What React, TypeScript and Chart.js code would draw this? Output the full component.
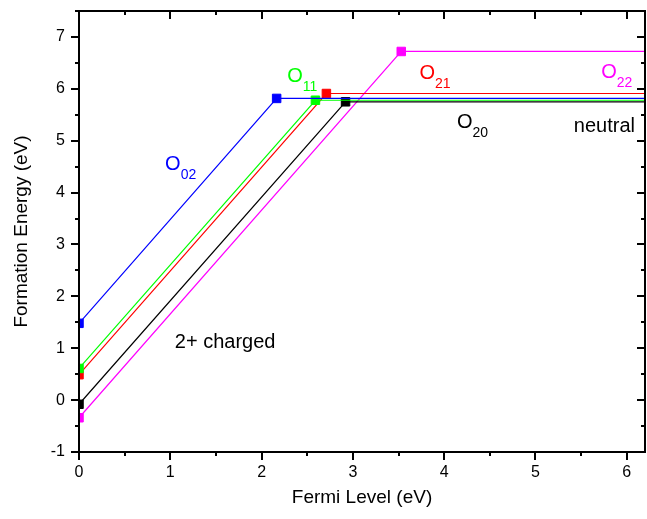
import React, { useEffect, useRef } from "react";
import { Chart, registerables } from "chart.js";

Chart.register(...registerables);

// Defect series (formation energy vs Fermi level)
const SERIES_NAMES = ["O02", "O11", "O21", "O20", "O22"];
const START_ENERGY = [1.48, 0.61, 0.49, -0.08, -0.34]; // at Ef = 0 (2+ charged)
const KINK_FERMI = [2.165, 2.59, 2.71, 2.92, 3.53]; // transition level
const NEUTRAL_ENERGY = [5.815, 5.78, 5.91, 5.75, 6.72]; // neutral plateau
const FERMI_END = 6.2;
const SERIES_COLORS = ["#0000ff", "#00ff00", "#ff0000", "#000000", "#ff00ff"];

const X_TICKS = [0, 1, 2, 3, 4, 5, 6];
const Y_TICKS = [-1, 0, 1, 2, 3, 4, 5, 6, 7];

// Text annotations (anchored in data coordinates)
const ANNOT_MAIN = ["O", "O", "O", "O", "O", "neutral", "2+ charged"];
const ANNOT_SUB = ["02", "11", "21", "22", "20", "", ""];
const ANNOT_X = [0.943, 2.28, 3.73, 5.72, 4.14, 5.42, 1.05];
const ANNOT_Y = [4.44, 6.14, 6.18, 6.21, 5.25, 5.16, 1.0];
const ANNOT_COLOR = ["#0000ff", "#00ff00", "#ff0000", "#ff00ff", "#000000", "#000000", "#000000"];

const FONT = "'Liberation Sans', Arial, sans-serif";

const framePlugin = {
  id: "frameAndText",
  afterDatasetsDraw(chart: any) {
    const { ctx, chartArea: a, scales } = chart;
    const x = scales.x;
    const y = scales.y;
    ctx.save();
    // annotations
    ctx.textBaseline = "alphabetic";
    ctx.textAlign = "left";
    for (let i = 0; i < ANNOT_MAIN.length; i++) {
      const px = x.getPixelForValue(ANNOT_X[i]);
      const py = y.getPixelForValue(ANNOT_Y[i]);
      ctx.fillStyle = ANNOT_COLOR[i];
      ctx.font = `20px ${FONT}`;
      ctx.fillText(ANNOT_MAIN[i], px, py);
      if (ANNOT_SUB[i]) {
        const w = ctx.measureText(ANNOT_MAIN[i]).width;
        ctx.font = `14px ${FONT}`;
        ctx.fillText(ANNOT_SUB[i], px + w, py + 9);
      }
    }
    // frame
    ctx.strokeStyle = "#000";
    ctx.lineWidth = 2;
    ctx.strokeRect(a.left, a.top, a.right - a.left, a.bottom - a.top);
    // ticks
    const major = 8;
    const minor = 4;
    ctx.beginPath();
    const xVals: number[] = [];
    X_TICKS.forEach((v) => { xVals.push(v); xVals.push(v + 0.5); });
    xVals.forEach((v, idx) => {
      if (v < x.min || v > x.max) return;
      const len = idx % 2 === 0 ? major : minor;
      const p = Math.round(x.getPixelForValue(v));
      ctx.moveTo(p, a.bottom);
      ctx.lineTo(p, a.bottom + len);
      ctx.moveTo(p, a.top);
      ctx.lineTo(p, a.top + len);
    });
    const yVals: number[] = [];
    Y_TICKS.forEach((v) => { yVals.push(v); yVals.push(v + 0.5); });
    yVals.forEach((v, idx) => {
      if (v < y.min || v > y.max) return;
      const len = idx % 2 === 0 ? major : minor;
      const p = Math.round(y.getPixelForValue(v));
      ctx.moveTo(a.left, p);
      ctx.lineTo(a.left - len, p);
      ctx.moveTo(a.right, p);
      ctx.lineTo(a.right - len, p);
    });
    ctx.stroke();
    ctx.restore();
  },
};

export default function App() {
  const ref = useRef<HTMLCanvasElement | null>(null);
  useEffect(() => {
    document.body.style.margin = "0";
    const canvas = ref.current;
    if (!canvas) return;
    const datasets = SERIES_NAMES.map((name, i) => ({
      label: name,
      data: [
        { x: 0, y: START_ENERGY[i] },
        { x: KINK_FERMI[i], y: NEUTRAL_ENERGY[i] },
        { x: FERMI_END, y: NEUTRAL_ENERGY[i] },
      ],
      borderColor: SERIES_COLORS[i],
      backgroundColor: SERIES_COLORS[i],
      borderWidth: 1.2,
      pointStyle: "rect",
      pointRadius: [6, 6, 0],
      pointBorderWidth: 1,
      pointHoverRadius: [6, 6, 0],
      clip: 0,
      tension: 0,
    }));
    const chart = new Chart(canvas, {
      type: "line",
      data: { datasets },
      plugins: [framePlugin],
      options: {
        animation: false,
        responsive: false,
        devicePixelRatio: 1,
        layout: { autoPadding: false, padding: { top: 11, right: 2, left: 0, bottom: 0 } },
        plugins: { legend: { display: false }, tooltip: { enabled: false } },
        scales: {
          x: {
            type: "linear",
            min: 0,
            max: FERMI_END,
            afterBuildTicks: (s: any) => { s.ticks = X_TICKS.map((v) => ({ value: v })); },
            afterFit: (s: any) => {
              s.height = 67;
              s.paddingLeft = 0; s.paddingRight = 0; s.paddingTop = 0; s.paddingBottom = 0;
            },
            grid: { display: false, tickLength: 8 },
            border: { display: false },
            ticks: { color: "#000", font: { family: FONT, size: 16 }, padding: 3, maxRotation: 0 },
            title: {
              display: true,
              text: "Fermi Level (eV)",
              color: "#000",
              font: { family: FONT, size: 19 },
              padding: { top: 0, bottom: 10 },
            },
          },
          y: {
            type: "linear",
            min: -1,
            max: 7.5,
            afterBuildTicks: (s: any) => { s.ticks = Y_TICKS.map((v) => ({ value: v })); },
            afterFit: (s: any) => {
              s.width = 79;
              s.paddingLeft = 0; s.paddingRight = 0; s.paddingTop = 0; s.paddingBottom = 0;
            },
            grid: { display: false, tickLength: 8 },
            border: { display: false },
            ticks: { color: "#000", font: { family: FONT, size: 16 }, padding: 6 },
            title: {
              display: true,
              text: "Formation Energy (eV)",
              color: "#000",
              font: { family: FONT, size: 19 },
              padding: { top: 10, bottom: 0 },
            },
          },
        },
      },
    } as any);
    return () => chart.destroy();
  }, []);
  return <canvas ref={ref} width={647} height={519} style={{ display: "block" }} />;
}
